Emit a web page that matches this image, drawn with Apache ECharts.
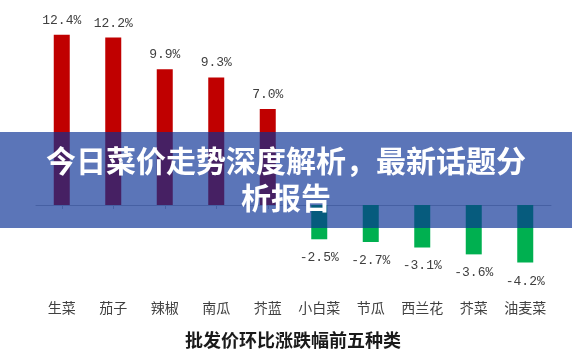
<!DOCTYPE html>
<html>
<head>
<meta charset="utf-8">
<script src="https://cdn.jsdelivr.net/npm/echarts@6/dist/echarts.min.js"></script>
<style>
html,body{margin:0;padding:0;background:#fff;}
#c{width:572px;height:361px;}
</style>
</head>
<body>
<div id="c"></div>
<script>
var categories = ['生菜','茄子','辣椒','南瓜','芥蓝','小白菜','节瓜','西兰花','芥菜','油麦菜'];
var values = [12.4, 12.2, 9.9, 9.3, 7.0, -2.5, -2.7, -3.1, -3.6, -4.2];
var chartTitle = '批发价环比涨跌幅前五种类';
var bannerLine1 = '今日菜价走势深度解析，最新话题分';
var bannerLine2 = '析报告';

var posColor = '#C00000', negColor = '#00B050';
var barData = values.map(function (v) {
  return {
    value: v,
    itemStyle: { color: v >= 0 ? posColor : negColor },
    label: { position: v >= 0 ? 'top' : 'bottom', distance: v >= 0 ? 8 : 12 }
  };
});

var chart = echarts.init(document.getElementById('c'));
chart.setOption({
  animation: false,
  backgroundColor: '#ffffff',
  grid: { left: 36, right: 21, top: 12.9, bottom: 73.7 },
  xAxis: [{
    type: 'category',
    data: categories,
    axisLine: { onZero: true, lineStyle: { color: '#bfbfbf', width: 1 } },
    axisTick: { show: true, alignWithLabel: true, length: 4, lineStyle: { color: '#bfbfbf' } },
    axisLabel: { show: false }
  }, {
    type: 'category',
    data: categories,
    position: 'bottom',
    axisLine: { show: false, onZero: false },
    axisTick: { show: false },
    axisLabel: { interval: 0, margin: 13, fontSize: 14, color: '#404040', fontFamily: 'Noto Sans CJK SC' }
  }],
  yAxis: { type: 'value', min: -6, max: 14, show: false },
  series: [{
    type: 'bar',
    xAxisIndex: 0,
    data: barData,
    barWidth: 16,
    label: {
      show: true,
      fontSize: 13,
      color: '#404040',
      fontFamily: 'Liberation Mono',
      formatter: function (p) { return p.value.toFixed(1) + '%'; }
    }
  }],
  graphic: [
    { type: 'text', left: 185, top: 331, style: { text: chartTitle, font: 'bold 18px "Noto Sans CJK SC"', fill: '#1a1a1a' } },
    { type: 'rect', left: 0, top: 132, z: 100, shape: { width: 572, height: 96 }, style: { fill: 'rgba(9,48,148,0.667)' } },
    { type: 'text', z: 101, left: 'center', top: 146, style: { text: bannerLine1, font: 'bold 30px "Noto Sans CJK SC"', fill: '#ffffff' } },
    { type: 'text', z: 101, left: 'center', top: 183, style: { text: bannerLine2, font: 'bold 30px "Noto Sans CJK SC"', fill: '#ffffff' } }
  ]
});
</script>
</body>
</html>
